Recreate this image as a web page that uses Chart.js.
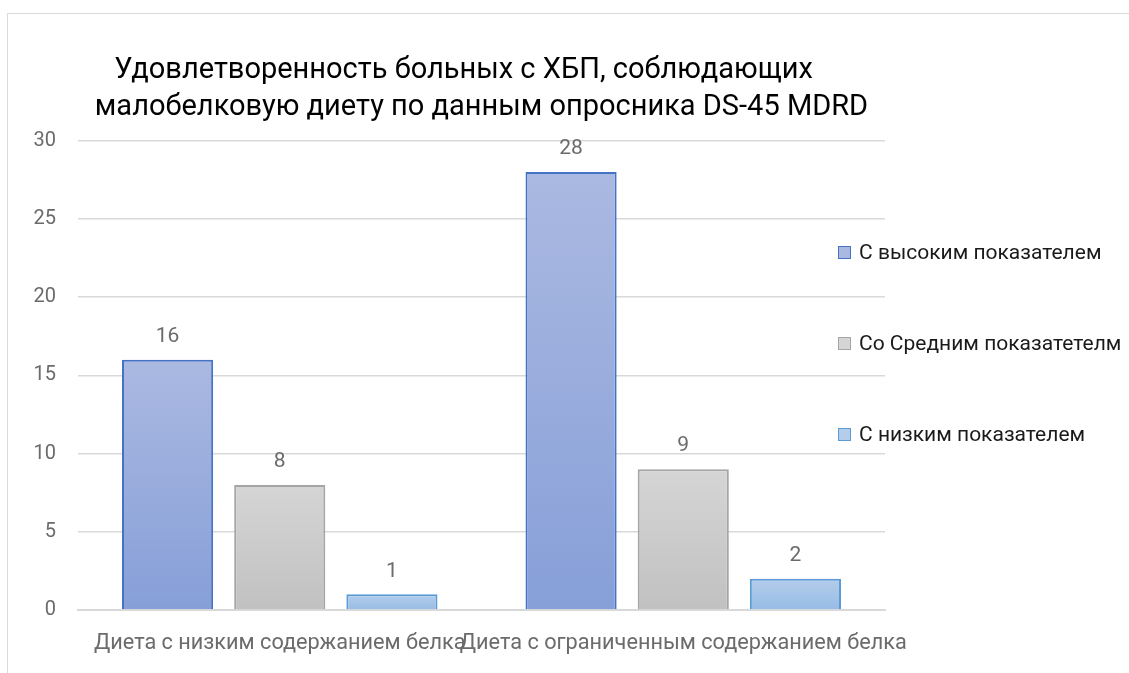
<!DOCTYPE html>
<html lang="ru">
<head>
<meta charset="utf-8">
<title>Удовлетворенность больных с ХБП</title>
<script src="https://cdn.jsdelivr.net/npm/chart.js@4.4.0/dist/chart.umd.min.js"></script>
<style>
    html, body { margin: 0; padding: 0; background: #fff; }
    #wrap { position: relative; width: 1129px; height: 673px; overflow: hidden; }
    #frame {
        position: absolute; left: 7px; top: 13px; width: 1300px; height: 800px;
        border: 1px solid #d9d9d9; box-sizing: border-box;
    }
    #legend {
        position: absolute; left: 838px; top: 240px;
        font-family: Roboto, sans-serif; font-size: 21px; color: #1a1a1a;
    }
    .legend-item { display: flex; align-items: center; height: 24px; margin-bottom: 67px; white-space: nowrap; }
    .legend-box { width: 13px; height: 13px; margin-right: 8px; box-sizing: border-box; border: 1.5px solid; }
</style>
</head>
<body>
<div id="wrap">
    <div id="frame"></div>
    <canvas id="chart" width="1129" height="673"></canvas>
    <div id="legend"></div>
</div>
<script>
// chart data
const categories = ['Диета с низким содержанием белка', 'Диета с ограниченным содержанием белка'];
const seriesNames = ['С высоким показателем', 'Со Средним показатетелм', 'С низким показателем'];
const highValues = [16, 28];
const mediumValues = [8, 9];
const lowValues = [1, 2];
const yTicks = [0, 5, 10, 15, 20, 25, 30];

// colours: [gradient top, gradient bottom, border]
const palette = [
    ['#aab9e1', '#879fd8', '#4472c4'],
    ['#d5d5d5', '#c1c1c1', '#a5a5a5'],
    ['#b4cdea', '#97bce6', '#5b9bd5']
];

/**
 * Vertical gradient spanning each bar from its top to the zero line
 */
function barGradient(colors) {
    return function(context) {
        const chart = context.chart;
        if (!chart.chartArea || context.type !== 'data') {
            return colors[0];
        }
        const y = chart.scales.y;
        const top = y.getPixelForValue(context.raw);
        const base = y.getPixelForValue(0);
        const g = chart.ctx.createLinearGradient(0, top, 0, base);
        g.addColorStop(0, colors[0]);
        g.addColorStop(1, colors[1]);
        return g;
    };
}

// value labels above bars
const valueLabels = {
    id: 'valueLabels',
    afterDatasetsDraw(chart) {
        const ctx = chart.ctx;
        ctx.save();
        ctx.font = '21px Roboto, sans-serif';
        ctx.fillStyle = '#6b6b6b';
        ctx.textAlign = 'center';
        ctx.textBaseline = 'middle';
        chart.data.datasets.forEach((ds, i) => {
            chart.getDatasetMeta(i).data.forEach((bar, j) => {
                const p = bar.getProps(['x', 'y'], true);
                ctx.fillText(ds.data[j], p.x, p.y - 23);
            });
        });
        ctx.restore();
    }
};

const allValues = [highValues, mediumValues, lowValues];

new Chart(document.getElementById('chart'), {
    type: 'bar',
    data: {
        labels: categories,
        datasets: allValues.map((vals, i) => ({
            label: seriesNames[i],
            data: vals,
            backgroundColor: barGradient(palette[i]),
            borderColor: palette[i][2],
            borderWidth: 2,
            categoryPercentage: 0.834,
            barPercentage: 0.8125
        }))
    },
    options: {
        responsive: false,
        animation: false,
        layout: { padding: { left: 0, right: 244, top: 0, bottom: 0 } },
        plugins: {
            legend: { display: false },
            tooltip: { enabled: false },
            title: {
                display: true,
                fullSize: false,
                text: ['Удовлетворенность больных с ХБП, соблюдающих     ', 'малобелковую диету по данным опросника DS-45 MDRD'],
                color: '#000',
                font: { family: 'Roboto, sans-serif', size: 29, weight: 'normal', lineHeight: 1.29 },
                padding: { top: 52, bottom: 14 }
            }
        },
        scales: {
            x: {
                grid: { display: false },
                border: { color: '#d9d9d9', width: 2 },
                ticks: {
                    color: '#6b6b6b',
                    font: { family: 'Roboto, sans-serif', size: 21.7 },
                    maxRotation: 0,
                    autoSkip: false,
                    padding: 13
                },
                afterFit(scale) { scale.height = 63; }
            },
            y: {
                min: 0,
                max: 30,
                afterBuildTicks(scale) { scale.ticks = yTicks.map(v => ({ value: v })); },
                grid: { color: '#d9d9d9', lineWidth: 1.5, drawTicks: false },
                border: { display: false },
                ticks: {
                    color: '#6b6b6b',
                    font: { family: 'Roboto, sans-serif', size: 20 },
                    padding: 22
                },
                afterFit(scale) { scale.width = 78; }
            }
        }
    },
    plugins: [valueLabels]
});

// legend built from the dataset names
const legend = document.getElementById('legend');
seriesNames.forEach((name, i) => {
    const item = document.createElement('div');
    item.className = 'legend-item';
    item.innerHTML = `<span class="legend-box" style="background:${palette[i][0]};border-color:${palette[i][2]}"></span>${name}`;
    legend.appendChild(item);
});
</script>
</body>
</html>
